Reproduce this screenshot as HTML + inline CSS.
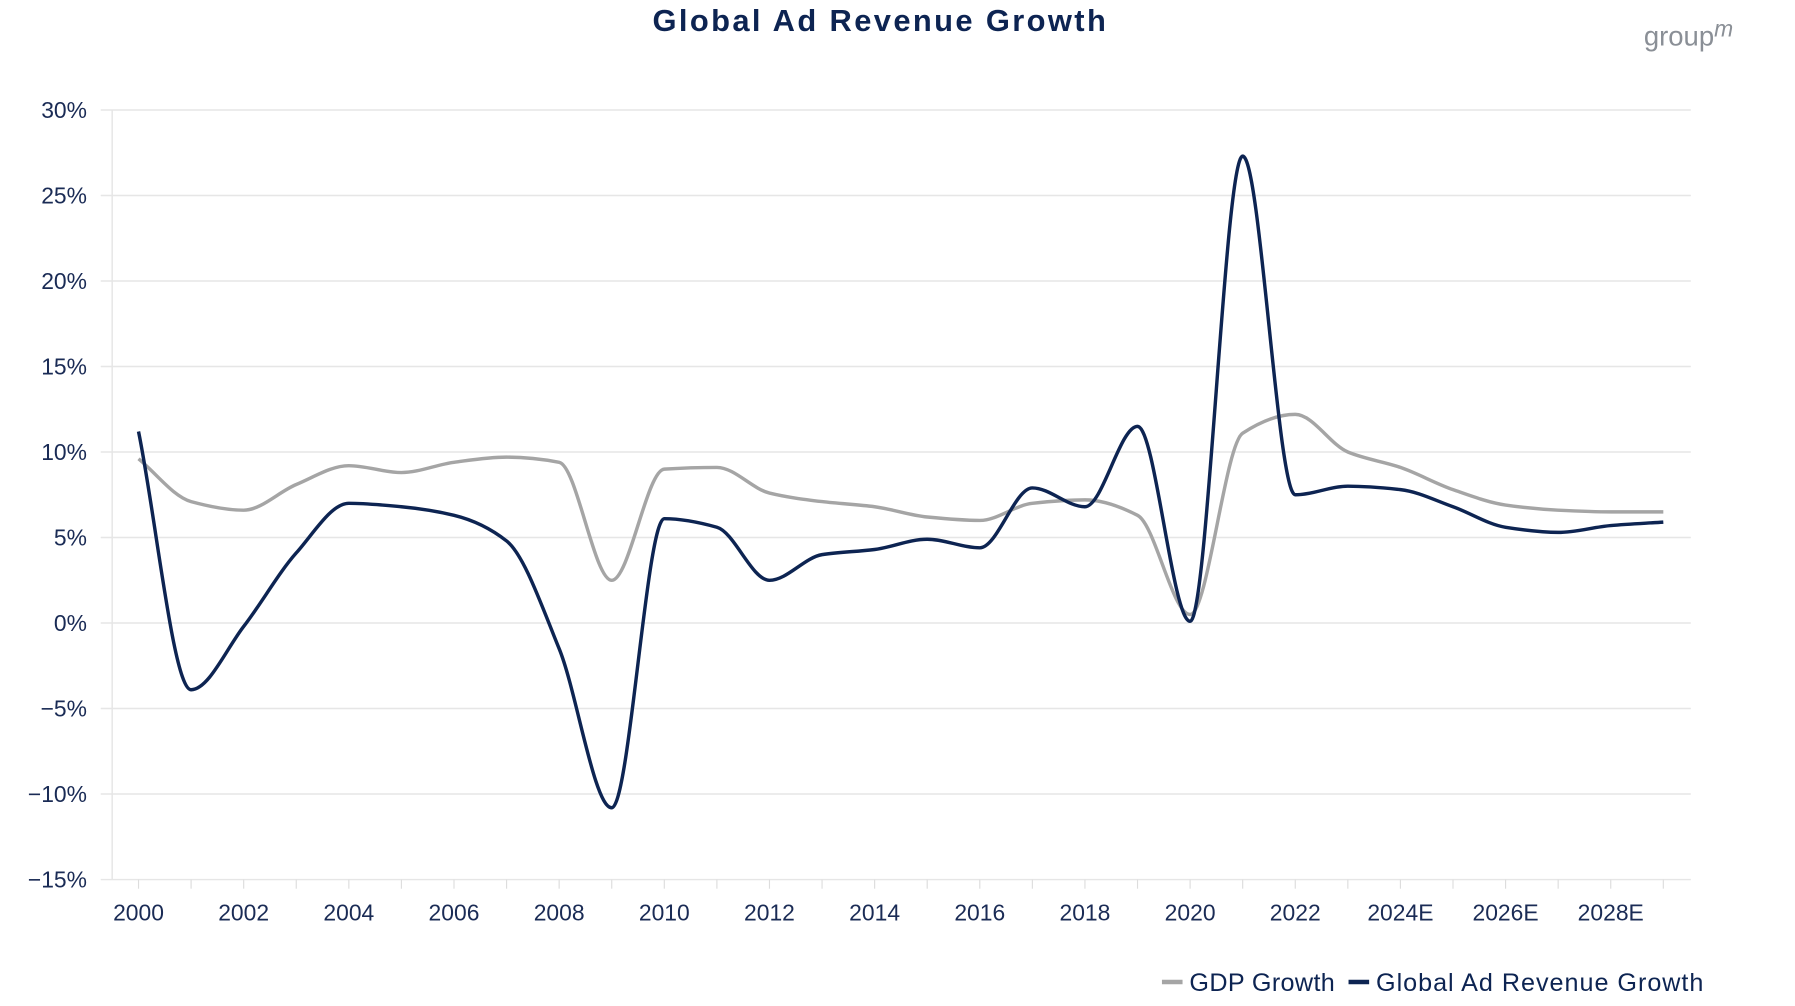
<!DOCTYPE html>
<html><head><meta charset="utf-8"><style>
html,body{margin:0;padding:0;background:#fff;}
svg{display:block;font-family:"Liberation Sans",sans-serif;}
</style></head><body>
<svg id="chart" width="1795" height="1006" viewBox="0 0 1568 880" preserveAspectRatio="none">
<text x="768" y="27" text-anchor="middle" font-size="27" font-weight="bold" fill="#0d2452" textLength="396">Global Ad Revenue Growth</text>
<text x="1475" y="40" text-anchor="middle" font-size="24" fill="#8a8f96">group<tspan font-style="italic" font-size="20" dy="-8">m</tspan></text>
<g id="grid"></g><g id="xt"></g><g id="lines"></g>
<g>
<line x1="1015" y1="859" x2="1033" y2="859" stroke="#a5a5a5" stroke-width="4"/>
<text x="1039" y="867" font-size="22" fill="#0d2452" textLength="127">GDP Growth</text>
<line x1="1178" y1="859" x2="1196" y2="859" stroke="#0d2452" stroke-width="4"/>
<text x="1202" y="867" font-size="22" fill="#0d2452" textLength="286">Global Ad Revenue Growth</text>
</g>
</svg>
<script>
const years=[2000,2001,2002,2003,2004,2005,2006,2007,2008,2009,2010,2011,2012,2013,2014,2015,2016,2017,2018,2019,2020,2021,2022,2023,2024,2025,2026,2027,2028,2029];
const xLabels=["2000","2002","2004","2006","2008","2010","2012","2014","2016","2018","2020","2022","2024E","2026E","2028E"];
const gdp=[9.6,7.1,6.6,8.1,9.2,8.8,9.4,9.7,9.4,2.5,9.0,9.1,7.6,7.1,6.8,6.2,6.0,7.0,7.2,6.3,0.5,11.1,12.2,10.0,9.1,7.8,6.9,6.6,6.5,6.5];
const adRev=[11.2,-3.9,-0.2,4.1,7.0,6.8,6.3,4.8,-1.5,-10.8,6.1,5.6,2.5,4.0,4.3,4.9,4.4,7.9,6.8,11.5,0.1,27.3,7.5,8.0,7.8,6.8,5.6,5.3,5.7,5.9];
const yTicks=[30,25,20,15,10,5,0,-5,-10,-15];
const NS="http://www.w3.org/2000/svg";
const x=i=>121+i*45.93;
const y=v=>545-v*14.96;
function mk(t,a,p){const e=document.createElementNS(NS,t);for(const k in a)e.setAttribute(k,a[k]);p.appendChild(e);return e;}
const grid=document.getElementById('grid');
yTicks.forEach(v=>{
  const l=mk('line',{x1:88,x2:1477,y1:y(v),y2:y(v),stroke:'#e6e6e6','stroke-width':1.3},grid);
  
  
  const t=mk('text',{x:76,y:y(v)+7,'text-anchor':'end','font-size':20,fill:'#1a2b55'},grid);
  t.textContent=(v<0?'\u2212'+(-v):v)+'%';
  
  
});
mk('line',{x1:98,x2:98,y1:y(30),y2:y(-15),stroke:'#e6e6e6','stroke-width':1.3},grid);
const xt=document.getElementById('xt');
years.forEach((yr,i)=>{mk('line',{x1:x(i),x2:x(i),y1:y(-15),y2:y(-15)+8,stroke:'#ddd','stroke-width':1},xt);});
xLabels.forEach((s,k)=>{
  const t=mk('text',{x:x(k*2),y:805,'text-anchor':'middle','font-size':20,fill:'#1a2b55'},xt);
  t.textContent=s;
  
  
});
function path(vals){
  const n=vals.length,h=45.93;
  const px=vals.map((v,i)=>x(i)),py=vals.map(v=>y(v));
  const dl=[];for(let i=0;i<n-1;i++)dl.push((py[i+1]-py[i])/h);
  const m=[];
  for(let i=0;i<n;i++){
    if(i===0)m.push(dl[0]);else if(i===n-1)m.push(dl[n-2]);
    else if(dl[i-1]*dl[i]<=0)m.push(0);
    else m.push(2/(1/dl[i-1]+1/dl[i]));
  }
  let d='M'+px[0]+','+py[0];
  for(let i=0;i<n-1;i++){
    d+=' C'+(px[i]+h/3)+','+(py[i]+m[i]*h/3)+' '+(px[i+1]-h/3)+','+(py[i+1]-m[i+1]*h/3)+' '+px[i+1]+','+py[i+1];
  }
  return d;
}
const lines=document.getElementById('lines');
const g1=mk('path',{d:path(gdp),fill:'none',stroke:'#a5a5a5','stroke-width':3},lines);


const g2=mk('path',{d:path(adRev),fill:'none',stroke:'#0d2452','stroke-width':3},lines);


</script>
</body></html>
